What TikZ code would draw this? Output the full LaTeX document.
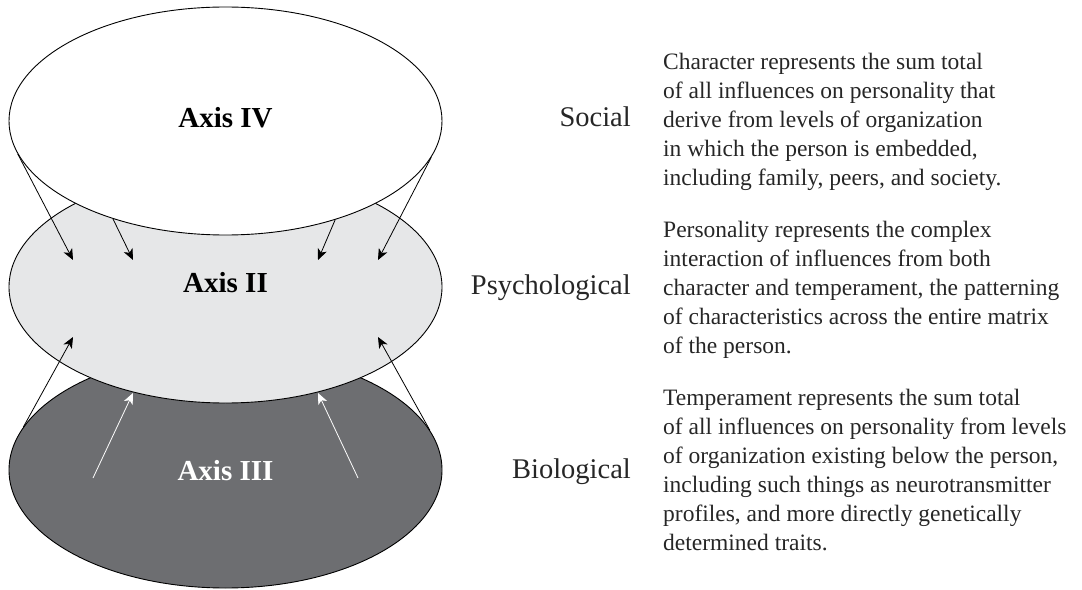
\documentclass[tikz,border=0pt]{standalone}
\usepackage{fontspec}
\setmainfont{Liberation Serif}
\usetikzlibrary{shapes.geometric,arrows.meta}
\definecolor{lightdisc}{HTML}{E6E7E8}
\definecolor{darkdisc}{HTML}{6D6E71}
\begin{document}
\begin{tikzpicture}[x=1bp,y=-1bp,
  disc/.style={ellipse, draw=black, line width=0.9bp, minimum width=433bp, inner sep=0},
  axislabel/.style={font=\fontsize{29bp}{34bp}\selectfont\bfseries, inner sep=0, anchor=base},
  levellabel/.style={font=\fontsize{28.5bp}{34bp}\selectfont, inner sep=0, anchor=base east, text=black!85},
  para/.style={font=\fontsize{23.5bp}{29bp}\selectfont, align=left, inner sep=0, anchor=north west, text=black!85},
  darr/.style={-{Stealth[length=11bp,width=9.5bp,inset=3bp]}, line width=0.8bp, draw=black},
  warr/.style={-{Stealth[length=11bp,width=9.5bp,inset=3bp]}, line width=0.8bp, draw=white}]
\useasboundingbox (0,0) rectangle (1082,590);
% discs
\node[disc, fill=darkdisc, minimum height=236bp] (bio) at (225.5,470) {};
\node[disc, fill=lightdisc, minimum height=232bp] (psy) at (225.5,287) {};
\node[disc, fill=white, minimum height=228bp] (soc) at (225.5,121) {};
% axis labels
\node[axislabel] (ax4) at (225.5,128) {Axis IV};
\node[axislabel] (ax2) at (225.5,293) {Axis II};
\node[axislabel, text=white] (ax3) at (225.5,480) {Axis III};
% arrow end points
\coordinate (t1) at (73,260);
\coordinate (t2) at (133,260);
\coordinate (t3) at (318,260);
\coordinate (t4) at (378,260);
\coordinate (b1) at (73,337);
\coordinate (b2) at (378,337);
\coordinate (w1s) at (93,478);
\coordinate (w1e) at (133,393);
\coordinate (w2s) at (358,478);
\coordinate (w2e) at (318,393);
% arrows from social down
\draw[darr] (soc.189.9) -- (t1);
\draw[darr] (soc.221.3) -- (t2);
\draw[darr] (soc.318.4) -- (t3);
\draw[darr] (soc.350) -- (t4);
% arrows from biological up
\draw[darr] (bio.168.9) -- (b1);
\draw[darr] (bio.11.2) -- (b2);
\draw[warr] (w1s) -- (w1e);
\draw[warr] (w2s) -- (w2e);
% level labels
\node[levellabel] (lsoc) at (631,127) {Social};
\node[levellabel] (lpsy) at (631,295) {Psychological};
\node[levellabel] (lbio) at (631,478) {Biological};
% paragraphs
\node[para] (psoc) at (663,48.7) {\strut Character represents the sum total\\
of all influences on personality that\\
derive from levels of organization\\
in which the person is embedded,\\
including family, peers, and society.};
\node[para] (ppsy) at (663,216.7) {\strut Personality represents the complex\\
interaction of influences from both\\
character and temperament, the patterning\\
of characteristics across the entire matrix\\
of the person.};
\node[para] (pbio) at (663,384.7) {\strut Temperament represents the sum total\\
of all influences on personality from levels\\
of organization existing below the person,\\
including such things as neurotransmitter\\
profiles, and more directly genetically\\
determined traits.};
\end{tikzpicture}
\end{document}
